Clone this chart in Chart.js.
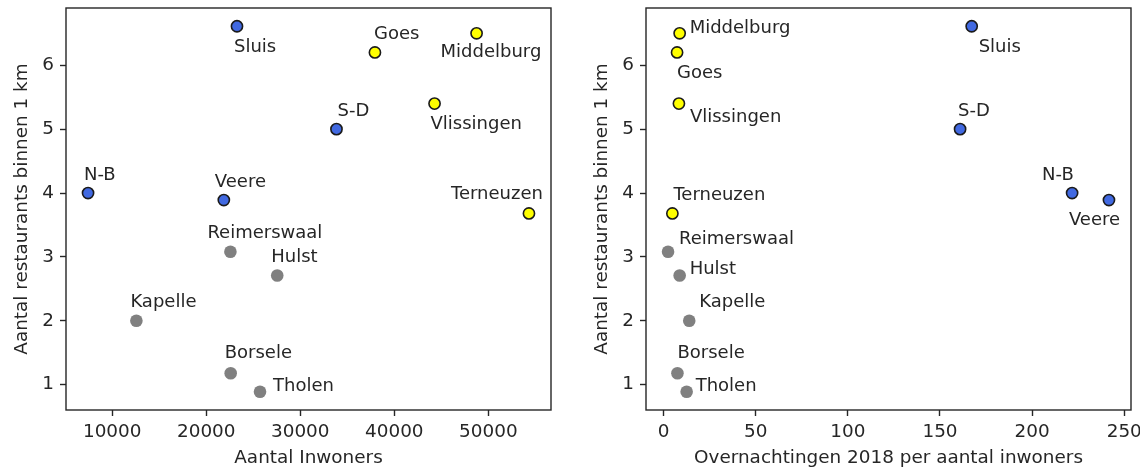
<!DOCTYPE html>
<html>
<head>
<meta charset="utf-8">
<script src="https://cdn.jsdelivr.net/npm/chart.js@4.4.0/dist/chart.umd.min.js"></script>
<style>
  html, body { margin: 0; padding: 0; background: #fff; overflow: hidden; }
  #wrap { position: relative; width: 1140px; height: 470px; overflow: hidden; }
  canvas { position: absolute; top: 0; }
</style>
</head>
<body>
<div id="wrap">
  <canvas id="links" width="570" height="470" style="left:0"></canvas>
  <canvas id="rechts" width="600" height="470" style="left:570px"></canvas>
</div>
<script>
// Gemeenten in Zeeland
const gemeenten = ['N-B', 'Veere', 'S-D', 'Sluis', 'Goes', 'Middelburg', 'Vlissingen', 'Terneuzen',
                   'Reimerswaal', 'Hulst', 'Kapelle', 'Borsele', 'Tholen'];
const groep = ['kust', 'kust', 'kust', 'kust', 'stad', 'stad', 'stad', 'stad',
               'overig', 'overig', 'overig', 'overig', 'overig'];
const inwoners = [7430, 21870, 33850, 23270, 37940, 48750, 44280, 54320,
                  22570, 27550, 12570, 22600, 25720];
const restaurants = [4.0, 3.89, 5.0, 6.61, 6.2, 6.5, 5.4, 3.68,
                     3.08, 2.71, 2.0, 1.18, 0.89];
const overnachtingenPerInwoner = [221.7, 241.7, 160.9, 167.2, 7.3, 8.7, 8.3, 4.75,
                                  2.4, 8.7, 13.9, 7.5, 12.5];
const yTicks = [1, 2, 3, 4, 5, 6];
const xTicksLinks = [10000, 20000, 30000, 40000, 50000];
const xTicksRechts = [0, 50, 100, 150, 200, 250];

const kleuren = {
  kust:   { fill: '#4169e1', rand: '#1a1a1a', rw: 1.6 },
  stad:   { fill: '#ffff00', rand: '#1a1a1a', rw: 1.6 },
  overig: { fill: '#808080', rand: '#808080', rw: 0 }
};
const tekstKleur = '#262626';
const lijnKleur = '#262626';
const FONT = '"DejaVu Sans", sans-serif';
const asFontSize = 18.4;
const labelFontSize = 18;

// Positie van de naamlabels t.o.v. het punt (px): links uitgelijnd, verticaal gecentreerd
const labelPosLinks = {
  'Sluis': [-3, 21], 'Goes': [-1, -18], 'Middelburg': [-36, 19], 'Vlissingen': [-4, 21],
  'S-D': [1, -18], 'N-B': [-4, -18], 'Veere': [-9, -18], 'Terneuzen': [-78, -19],
  'Reimerswaal': [-23, -18], 'Hulst': [-6, -18], 'Kapelle': [-6, -18], 'Borsele': [-6, -20],
  'Tholen': [13, -5]
};
const labelPosRechts = {
  'Middelburg': [10, -5], 'Goes': [0, 21], 'Vlissingen': [11, 14], 'Terneuzen': [1, -18],
  'Sluis': [7, 21], 'S-D': [-2, -18], 'N-B': [-30, -18], 'Veere': [-40, 20],
  'Reimerswaal': [11, -12], 'Hulst': [10, -6], 'Kapelle': [10, -18], 'Borsele': [0, -20],
  'Tholen': [9, -5]
};

function marge(vals) {
  const lo = Math.min(...vals), hi = Math.max(...vals), d = (hi - lo) * 0.05;
  return { min: lo - d, max: hi + d };
}

function datasets(xs) {
  return ['kust', 'stad', 'overig'].map(g => {
    const idx = gemeenten.map((_, i) => i).filter(i => groep[i] === g);
    const k = kleuren[g];
    return {
      label: g,
      namen: idx.map(i => gemeenten[i]),
      data: idx.map(i => ({ x: xs[i], y: restaurants[i] })),
      backgroundColor: k.fill,
      borderColor: k.rand,
      borderWidth: k.rw,
      pointRadius: k.rw ? 5.6 : 6.3,
      pointHoverRadius: k.rw ? 5.6 : 6.3
    };
  });
}

const kaderEnLabels = {
  id: 'kaderEnLabels',
  afterDatasetsDraw(chart, args, opts) {
    const { ctx, chartArea: a } = chart;
    ctx.save();
    ctx.strokeStyle = lijnKleur;
    ctx.lineWidth = 1.4;
    ctx.strokeRect(a.left, a.top, a.right - a.left, a.bottom - a.top);
    ctx.font = labelFontSize + 'px ' + FONT;
    ctx.fillStyle = tekstKleur;
    ctx.textAlign = 'left';
    ctx.textBaseline = 'middle';
    chart.data.datasets.forEach((ds, di) => {
      chart.getDatasetMeta(di).data.forEach((pt, i) => {
        const naam = ds.namen[i];
        const [dx, dy] = opts.pos[naam];
        ctx.fillText(naam, pt.x + dx, pt.y + dy);
      });
    });
    ctx.restore();
  }
};

function maakGrafiek(id, xs, xTicks, xTitel, yBreedte, rechtsPad, labelPos) {
  const xr = marge(xs), yr = marge(restaurants);
  const tickFont = { family: FONT, size: asFontSize };
  const as = () => ({
    grid: { display: true, drawOnChartArea: false, drawTicks: true, tickLength: 6,
            tickWidth: 1.4, tickColor: lijnKleur, color: lijnKleur },
    border: { display: false }
  });
  return new Chart(document.getElementById(id), {
    type: 'scatter',
    data: { datasets: datasets(xs) },
    options: {
      responsive: false,
      animation: false,
      events: [],
      layout: { padding: { top: 8, right: rechtsPad, left: 0, bottom: 0 } },
      plugins: { legend: { display: false }, tooltip: { enabled: false },
                 kaderEnLabels: { pos: labelPos } },
      scales: {
        x: Object.assign(as(), {
          type: 'linear', min: xr.min, max: xr.max,
          afterFit: s => { s.height = 60; s.paddingLeft = 0; s.paddingRight = 0; },
          afterBuildTicks: s => { s.ticks = xTicks.map(v => ({ value: v })); },
          ticks: { font: tickFont, color: tekstKleur, padding: 5, maxRotation: 0,
                   callback: v => String(v) },
          title: { display: true, text: xTitel, font: tickFont, color: tekstKleur,
                   padding: { top: 0, bottom: 0.5 } }
        }),
        y: Object.assign(as(), {
          type: 'linear', min: yr.min, max: yr.max,
          afterFit: s => { s.width = yBreedte; s.paddingTop = 0; s.paddingBottom = 0; },
          afterBuildTicks: s => { s.ticks = yTicks.map(v => ({ value: v })); },
          ticks: { font: tickFont, color: tekstKleur, padding: 6,
                   callback: v => String(v) },
          title: { display: true, text: 'Aantal restaurants binnen 1 km', font: tickFont,
                   color: tekstKleur, padding: { top: yBreedte - 55, bottom: 0 } }
        })
      }
    },
    plugins: [kaderEnLabels]
  });
}

maakGrafiek('links', inwoners, xTicksLinks, 'Aantal Inwoners', 66, 19, labelPosLinks);
maakGrafiek('rechts', overnachtingenPerInwoner, xTicksRechts,
            'Overnachtingen 2018 per aantal inwoners', 76, 39, labelPosRechts);
</script>
</body>
</html>
